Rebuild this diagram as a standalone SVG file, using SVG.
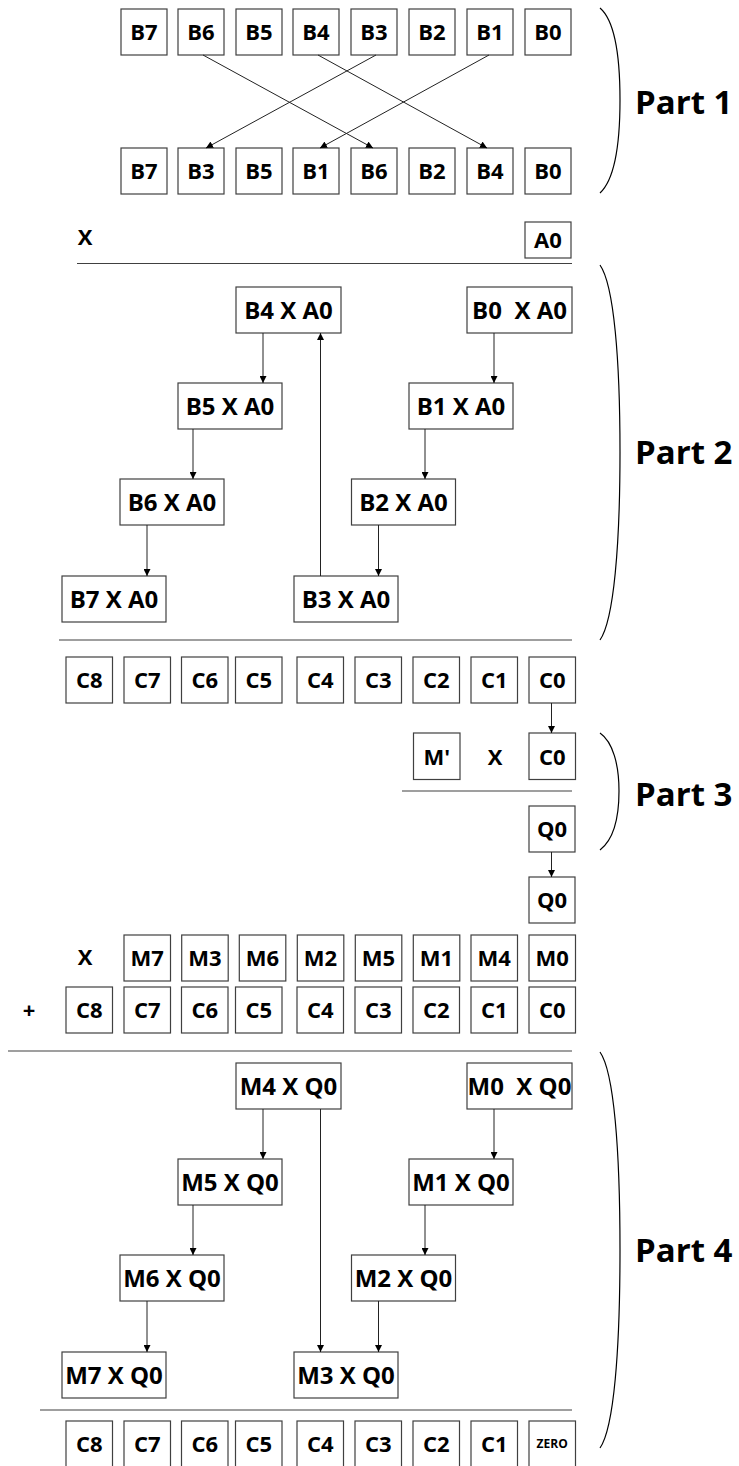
<svg xmlns="http://www.w3.org/2000/svg" width="739" height="1466" viewBox="0 0 739 1466">
<style>
.box{fill:#fff;stroke:#404040;stroke-width:1.2}
.t{font-family:"Open Sans","Noto Sans",sans-serif;font-weight:bold;font-size:22px;text-anchor:middle;fill:#000}
.n{font-size:24px}
.s{font-size:12px}
.p{font-family:"Open Sans","Noto Sans",sans-serif;font-weight:bold;font-size:33px;fill:#000}
.ln{stroke:#404040;stroke-width:1.2;fill:none}
.br{stroke:#000;stroke-width:1.2;fill:none}
.c{stroke:#222;stroke-width:1;fill:none;marker-end:url(#ah)}
</style>
<defs>
<marker id="ah" viewBox="0 0 10 10" refX="10" refY="5" markerWidth="7" markerHeight="7" markerUnits="userSpaceOnUse" orient="auto">
<path d="M0,0 L10,5 L0,10 z" fill="#000"/>
</marker>
</defs>

<!-- Part 1 -->
<g id="p1-top">
<rect class="box" x="121" y="9" width="46" height="46"/><text class="t" x="144" y="40">B7</text>
<rect class="box" x="178" y="9" width="46" height="46"/><text class="t" x="201" y="40">B6</text>
<rect class="box" x="236" y="9" width="46" height="46"/><text class="t" x="259" y="40">B5</text>
<rect class="box" x="293" y="9" width="46" height="46"/><text class="t" x="316" y="40">B4</text>
<rect class="box" x="351" y="9" width="46" height="46"/><text class="t" x="374" y="40">B3</text>
<rect class="box" x="409" y="9" width="46" height="46"/><text class="t" x="432" y="40">B2</text>
<rect class="box" x="467" y="9" width="46" height="46"/><text class="t" x="490" y="40">B1</text>
<rect class="box" x="525" y="9" width="46" height="46"/><text class="t" x="548" y="40">B0</text>
</g>
<g id="p1-bottom">
<rect class="box" x="121" y="148" width="46" height="46"/><text class="t" x="144" y="179">B7</text>
<rect class="box" x="178" y="148" width="46" height="46"/><text class="t" x="201" y="179">B3</text>
<rect class="box" x="236" y="148" width="46" height="46"/><text class="t" x="259" y="179">B5</text>
<rect class="box" x="293" y="148" width="46" height="46"/><text class="t" x="316" y="179">B1</text>
<rect class="box" x="351" y="148" width="46" height="46"/><text class="t" x="374" y="179">B6</text>
<rect class="box" x="409" y="148" width="46" height="46"/><text class="t" x="432" y="179">B2</text>
<rect class="box" x="467" y="148" width="46" height="46"/><text class="t" x="490" y="179">B4</text>
<rect class="box" x="525" y="148" width="46" height="46"/><text class="t" x="548" y="179">B0</text>
</g>
<g id="mul-a0">
<text class="t" x="85" y="245">X</text>
<rect class="box" x="525" y="222" width="46" height="36"/><text class="t" x="548" y="248">A0</text>
</g>

<!-- Part 2 -->
<g id="b4a0"><rect class="box" x="236" y="287" width="105" height="46"/><text class="t n" x="288.5" y="318.5">B4 X A0</text></g>
<g id="b0a0"><rect class="box" x="467" y="287" width="105" height="46"/><text class="t n" x="519.5" y="318.5" xml:space="preserve">B0  X A0</text></g>
<g id="b5a0"><rect class="box" x="178" y="383" width="104" height="46"/><text class="t n" x="230" y="414.5">B5 X A0</text></g>
<g id="b1a0"><rect class="box" x="409" y="383" width="104" height="46"/><text class="t n" x="461" y="414.5">B1 X A0</text></g>
<g id="b6a0"><rect class="box" x="120" y="479" width="104" height="46"/><text class="t n" x="172" y="510.5">B6 X A0</text></g>
<g id="b2a0"><rect class="box" x="351.5" y="479" width="104" height="46"/><text class="t n" x="403.5" y="510.5">B2 X A0</text></g>
<g id="b7a0"><rect class="box" x="62" y="576" width="104" height="46"/><text class="t n" x="114" y="607.5">B7 X A0</text></g>
<g id="b3a0"><rect class="box" x="294" y="576" width="104" height="46"/><text class="t n" x="346" y="607.5">B3 X A0</text></g>

<!-- C row 1 -->
<g id="c-row1">
<rect class="box" x="66" y="657" width="46.5" height="46"/><text class="t" x="89.2" y="688">C8</text>
<rect class="box" x="124" y="657" width="46.5" height="46"/><text class="t" x="147.2" y="688">C7</text>
<rect class="box" x="181.5" y="657" width="46.5" height="46"/><text class="t" x="204.7" y="688">C6</text>
<rect class="box" x="235.5" y="657" width="46.5" height="46"/><text class="t" x="258.7" y="688">C5</text>
<rect class="box" x="297" y="657" width="46.5" height="46"/><text class="t" x="320.2" y="688">C4</text>
<rect class="box" x="355" y="657" width="46.5" height="46"/><text class="t" x="378.2" y="688">C3</text>
<rect class="box" x="413" y="657" width="46.5" height="46"/><text class="t" x="436.2" y="688">C2</text>
<rect class="box" x="471" y="657" width="46.5" height="46"/><text class="t" x="494.2" y="688">C1</text>
<rect class="box" x="529" y="657" width="46.5" height="46"/><text class="t" x="552.2" y="688">C0</text>
</g>

<!-- Part 3 -->
<g id="mprime"><rect class="box" x="413.5" y="733" width="46.5" height="46.5"/><text class="t" x="436.7" y="764.5">M'</text></g>
<g id="x3"><text class="t" x="495" y="764.5">X</text></g>
<g id="c0b"><rect class="box" x="529" y="733" width="46.5" height="46.5"/><text class="t" x="552.2" y="764.5">C0</text></g>
<g id="q0a"><rect class="box" x="529" y="806" width="46" height="46"/><text class="t" x="552" y="837">Q0</text></g>
<g id="q0b"><rect class="box" x="529" y="877" width="46" height="46"/><text class="t" x="552" y="908">Q0</text></g>

<!-- M row -->
<g id="m-row">
<text class="t" x="85" y="965">X</text>
<rect class="box" x="124" y="935" width="46.5" height="46"/><text class="t" x="147.2" y="966">M7</text>
<rect class="box" x="181.7" y="935" width="46.5" height="46"/><text class="t" x="204.9" y="966">M3</text>
<rect class="box" x="239.3" y="935" width="46.5" height="46"/><text class="t" x="262.5" y="966">M6</text>
<rect class="box" x="297.3" y="935" width="46.5" height="46"/><text class="t" x="320.5" y="966">M2</text>
<rect class="box" x="355.3" y="935" width="46.5" height="46"/><text class="t" x="378.5" y="966">M5</text>
<rect class="box" x="413.3" y="935" width="46.5" height="46"/><text class="t" x="436.5" y="966">M1</text>
<rect class="box" x="471" y="935" width="46.5" height="46"/><text class="t" x="494.2" y="966">M4</text>
<rect class="box" x="529" y="935" width="46.5" height="46"/><text class="t" x="552.2" y="966">M0</text>
</g>
<g id="c-row2">
<text class="t" x="29" y="1018">+</text>
<rect class="box" x="66" y="987" width="46.5" height="46"/><text class="t" x="89.2" y="1018">C8</text>
<rect class="box" x="124" y="987" width="46.5" height="46"/><text class="t" x="147.2" y="1018">C7</text>
<rect class="box" x="181.5" y="987" width="46.5" height="46"/><text class="t" x="204.7" y="1018">C6</text>
<rect class="box" x="235.5" y="987" width="46.5" height="46"/><text class="t" x="258.7" y="1018">C5</text>
<rect class="box" x="297" y="987" width="46.5" height="46"/><text class="t" x="320.2" y="1018">C4</text>
<rect class="box" x="355" y="987" width="46.5" height="46"/><text class="t" x="378.2" y="1018">C3</text>
<rect class="box" x="413" y="987" width="46.5" height="46"/><text class="t" x="436.2" y="1018">C2</text>
<rect class="box" x="471" y="987" width="46.5" height="46"/><text class="t" x="494.2" y="1018">C1</text>
<rect class="box" x="529" y="987" width="46.5" height="46"/><text class="t" x="552.2" y="1018">C0</text>
</g>

<!-- Part 4 -->
<g id="m4q0"><rect class="box" x="236" y="1063" width="105" height="46"/><text class="t n" x="288.5" y="1094.5">M4 X Q0</text></g>
<g id="m0q0"><rect class="box" x="467" y="1063" width="105" height="46"/><text class="t n" x="519.5" y="1094.5" xml:space="preserve">M0  X Q0</text></g>
<g id="m5q0"><rect class="box" x="178" y="1159" width="104" height="46"/><text class="t n" x="230" y="1190.5">M5 X Q0</text></g>
<g id="m1q0"><rect class="box" x="409" y="1159" width="104" height="46"/><text class="t n" x="461" y="1190.5">M1 X Q0</text></g>
<g id="m6q0"><rect class="box" x="120" y="1255" width="104" height="46"/><text class="t n" x="172" y="1286.5">M6 X Q0</text></g>
<g id="m2q0"><rect class="box" x="351.5" y="1255" width="104" height="46"/><text class="t n" x="403.5" y="1286.5">M2 X Q0</text></g>
<g id="m7q0"><rect class="box" x="62" y="1352" width="104" height="46"/><text class="t n" x="114" y="1383.5">M7 X Q0</text></g>
<g id="m3q0"><rect class="box" x="294" y="1352" width="104" height="46"/><text class="t n" x="346" y="1383.5">M3 X Q0</text></g>

<!-- Bottom row -->
<g id="c-row3">
<rect class="box" x="66" y="1421" width="46.5" height="46"/><text class="t" x="89.2" y="1452">C8</text>
<rect class="box" x="124" y="1421" width="46.5" height="46"/><text class="t" x="147.2" y="1452">C7</text>
<rect class="box" x="181.5" y="1421" width="46.5" height="46"/><text class="t" x="204.7" y="1452">C6</text>
<rect class="box" x="235.5" y="1421" width="46.5" height="46"/><text class="t" x="258.7" y="1452">C5</text>
<rect class="box" x="297" y="1421" width="46.5" height="46"/><text class="t" x="320.2" y="1452">C4</text>
<rect class="box" x="355" y="1421" width="46.5" height="46"/><text class="t" x="378.2" y="1452">C3</text>
<rect class="box" x="413" y="1421" width="46.5" height="46"/><text class="t" x="436.2" y="1452">C2</text>
<rect class="box" x="471" y="1421" width="46.5" height="46"/><text class="t" x="494.2" y="1452">C1</text>
<rect class="box" x="529" y="1421" width="46.5" height="46"/><text class="t s" x="552.2" y="1448">ZERO</text>
</g>

<!-- separator lines -->
<g id="rules">
<line class="ln" x1="77" y1="263.5" x2="572" y2="263.5"/>
<line class="ln" x1="59" y1="640" x2="572" y2="640"/>
<line class="ln" x1="402" y1="791" x2="572" y2="791"/>
<line class="ln" x1="8" y1="1051" x2="572" y2="1051"/>
<line class="ln" x1="40" y1="1410" x2="572" y2="1410"/>
</g>

<!-- brackets and labels -->
<g id="part1"><path class="br" d="M600,8 C614,20 620,55 620,100 C620,145 614,180 600,193"/><text class="p" x="635" y="114">Part 1</text></g>
<g id="part2"><path class="br" d="M600,265 C614,285 620,360 620,452 C620,544 614,620 600,640"/><text class="p" x="635" y="464">Part 2</text></g>
<g id="part3"><path class="br" d="M600,733 C613,742 619,765 619,791 C619,818 613,840 600,850"/><text class="p" x="635" y="806">Part 3</text></g>
<g id="part4"><path class="br" d="M600,1052 C614,1072 620,1150 620,1250 C620,1350 614,1428 600,1448"/><text class="p" x="635" y="1262">Part 4</text></g>

<!-- connectors -->
<g id="connectors">
<line class="c" x1="203" y1="55" x2="373" y2="148"/>
<line class="c" x1="318" y1="55" x2="487" y2="148"/>
<line class="c" x1="376" y1="55" x2="206" y2="148"/>
<line class="c" x1="489" y1="55" x2="320" y2="148"/>

<line class="c" x1="263" y1="333" x2="263" y2="383"/>
<line class="c" x1="193" y1="429" x2="193" y2="479"/>
<line class="c" x1="147" y1="525" x2="147" y2="576"/>
<line class="c" x1="494" y1="333" x2="494" y2="383"/>
<line class="c" x1="425" y1="429" x2="425" y2="479"/>
<line class="c" x1="378.5" y1="525" x2="378.5" y2="576"/>
<line class="c" x1="320.5" y1="576" x2="320.5" y2="333"/>

<line class="c" x1="551.5" y1="703" x2="551.5" y2="733"/>
<line class="c" x1="551.5" y1="852" x2="551.5" y2="877"/>

<line class="c" x1="263" y1="1109" x2="263" y2="1159"/>
<line class="c" x1="193" y1="1205" x2="193" y2="1255"/>
<line class="c" x1="147" y1="1301" x2="147" y2="1352"/>
<line class="c" x1="494" y1="1109" x2="494" y2="1159"/>
<line class="c" x1="425" y1="1205" x2="425" y2="1255"/>
<line class="c" x1="378.5" y1="1301" x2="378.5" y2="1352"/>
<line class="c" x1="320.5" y1="1109" x2="320.5" y2="1352"/>
</g>
</svg>
